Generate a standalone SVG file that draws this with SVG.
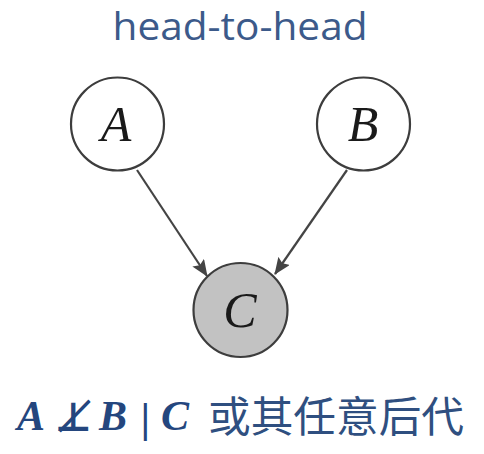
<svg xmlns="http://www.w3.org/2000/svg" width="484" height="454" viewBox="0 0 484 454">
<style>
.node circle{stroke:#3d3d3d;stroke-width:2.2}
.lbl{font-family:"Liberation Serif","DejaVu Serif",serif;font-style:italic;font-size:50px;fill:#1a1a1a;text-anchor:middle}
.edge{stroke:#444;stroke-width:2.2;fill:none;marker-end:url(#arr)}
.math{font-family:"Liberation Serif","DejaVu Serif",serif;font-weight:bold;font-style:italic;font-size:42px;fill:#24467e}
.sym{font-family:"DejaVu Sans","DejaVu Serif",sans-serif;font-weight:bold;font-size:40px;fill:#24467e}
</style>
<defs>
<marker id="arr" viewBox="0 0 17 14" refX="16" refY="7" markerWidth="17" markerHeight="14" orient="auto" markerUnits="userSpaceOnUse">
<path d="M0,0 L17,7 L0,14 L3,7 z" fill="#444"/>
</marker>
</defs>
<rect width="484" height="454" fill="#fff"/>
<text x="240" y="40" font-family="'Open Sans','DejaVu Sans',sans-serif" font-size="38" fill="#3c5a8a" text-anchor="middle" textLength="255" lengthAdjust="spacingAndGlyphs">head-to-head</text>
<g id="edges">
<line class="edge" x1="137" y1="170" x2="207" y2="276"/>
<line class="edge" x1="347" y1="170" x2="275" y2="274"/>
</g>
<g id="A" class="node"><circle cx="117.5" cy="124" r="46.5" fill="#fff"/><text class="lbl" x="116" y="141">A</text></g>
<g id="B" class="node"><circle cx="363.5" cy="124" r="46.5" fill="#fff"/><text class="lbl" x="363" y="141">B</text></g>
<g id="C" class="node"><circle cx="240.5" cy="310" r="47" fill="#c2c2c2"/><text class="lbl" x="240" y="327">C</text></g>
<g id="caption">
<text class="math" x="17" y="430">A</text>
<text class="sym" x="55" y="431">⊥̸</text>
<text class="math" x="99" y="430">B</text>
<text class="math" x="141" y="432" font-style="normal" font-weight="normal">|</text>
<text class="math" x="161" y="430">C</text>
<text x="208" y="432" font-family="'Noto Sans CJK SC',sans-serif" font-size="42" fill="#2f4f80" textLength="256" lengthAdjust="spacingAndGlyphs">或其任意后代</text>
</g>
</svg>
